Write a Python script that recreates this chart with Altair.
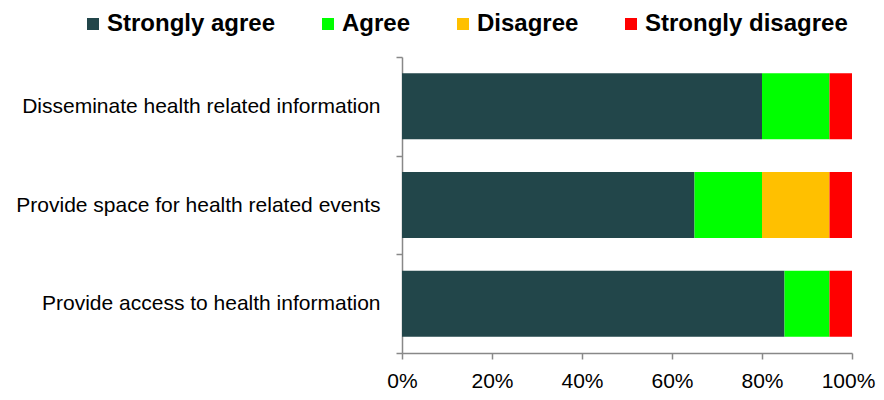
import altair as alt
import pandas as pd

statements = [
    "Disseminate health related information",
    "Provide space for health related events",
    "Provide access to health information",
]
responses = ["Strongly agree", "Agree", "Disagree", "Strongly disagree"]
colors = ["#22464A", "#00FF00", "#FFC000", "#FF0000"]

strongly_agree = [80, 65, 85]
agree = [15, 15, 10]
disagree = [0, 15, 0]
strongly_disagree = [5, 5, 5]

series = [strongly_agree, agree, disagree, strongly_disagree]
rows = []
for ri, (resp, vals) in enumerate(zip(responses, series)):
    for s, v in zip(statements, vals):
        rows.append({"statement": s, "response": resp, "value": v, "order": ri})
df = pd.DataFrame(rows)

axis_grey = "#888888"

chart = (
    alt.Chart(df)
    .mark_bar(size=66)
    .encode(
        y=alt.Y(
            "statement:N",
            sort=statements,
            title=None,
            scale=alt.Scale(paddingInner=0, paddingOuter=0),
            axis=alt.Axis(
                tickBand="extent",
                tickSize=6,
                tickColor=axis_grey,
                domainColor=axis_grey,
                domainWidth=1.5,
                tickWidth=1.5,
                labelFont="Liberation Sans",
                labelFontSize=21,
                labelColor="#000000",
                labelPadding=16,
                labelLimit=500,
            ),
        ),
        x=alt.X(
            "value:Q",
            stack="zero",
            title=None,
            scale=alt.Scale(domain=[0, 100], nice=False),
            axis=alt.Axis(
                values=[0, 20, 40, 60, 80, 100],
                labelExpr="datum.value + '%'",
                grid=False,
                tickSize=6,
                tickColor=axis_grey,
                domainColor=axis_grey,
                domainWidth=1.5,
                tickWidth=1.5,
                labelFont="Liberation Sans",
                labelFontSize=21,
                labelColor="#000000",
                labelPadding=11,
                labelFlush=False,
                labelOffset={"expr": "datum.value == 100 ? -4 : 0"},
            ),
        ),
        color=alt.Color(
            "response:N",
            sort=responses,
            scale=alt.Scale(domain=responses, range=colors),
            legend=alt.Legend(
                title=None,
                orient="none",
                direction="horizontal",
                legendX=-321,
                legendY=-45,
                symbolType="square",
                symbolSize=144,
                symbolStrokeWidth=0,
                symbolOpacity=1,
                labelFont="Liberation Sans",
                labelFontWeight="bold",
                labelFontSize=24,
                labelColor="#000000",
                labelOffset=2,
                columnPadding=40,
                labelLimit=400,
            ),
        ),
        order=alt.Order("order:Q"),
    )
    .properties(
        width=450,
        height=296,
        padding={"left": 394, "top": 49, "right": 24, "bottom": 39},
        autosize=alt.AutoSizeParams(type="none"),
    )
    .configure_view(stroke=None)
)

chart.save("out.html", embed_options={"renderer": "svg", "actions": False})
